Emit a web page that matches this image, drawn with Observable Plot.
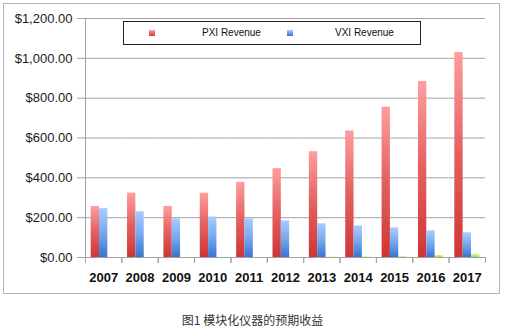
<!DOCTYPE html>
<html><head><meta charset="utf-8">
<script src="https://cdn.jsdelivr.net/npm/d3@7"></script>
<script src="https://cdn.jsdelivr.net/npm/@observablehq/plot@0.6"></script>
<style>
body{margin:0;background:#fff;}
#wrap{position:relative;width:505px;height:331px;overflow:hidden;}
#border{position:absolute;left:3px;top:3px;width:495px;height:289px;border:1px solid #b4b4b4;pointer-events:none;}
#legend{position:absolute;left:123px;top:21px;width:296px;height:22px;border:1px solid #222;background:#fff;font:10px "Liberation Sans",Arial,sans-serif;color:#111;}
#legend .sw{position:absolute;top:8px;width:6px;height:6px;}
#legend .lb{position:absolute;top:0;line-height:22px;white-space:nowrap;}
#caption{position:absolute;left:0;top:312px;width:505px;text-align:center;font:12px/16px "Noto Sans CJK SC",sans-serif;color:#333;}
</style></head><body>
<div id="wrap">
  <div id="chart"></div>
  <div id="border"></div>
  <div id="legend"></div>
  <div id="caption"></div>
</div>
<script>
const years = [2007, 2008, 2009, 2010, 2011, 2012, 2013, 2014, 2015, 2016, 2017];
const pxiRevenue = [256, 323, 256, 323, 377, 446, 531, 635, 755, 884, 1029];
const vxiRevenue = [245, 230, 194, 203, 194, 184, 169, 159, 149, 134, 124];
const otherRevenue = [0, 0, 0, 0, 0, 0, 2, 3, 4, 10, 16];
const seriesNames = ["PXI Revenue", "VXI Revenue", "Other Revenue"];
const legendNames = ["PXI Revenue", "VXI Revenue"];
const yTicks = [0, 200, 400, 600, 800, 1000, 1200];
const captionText = "图1 模块化仪器的预期收益";

const seriesValues = [pxiRevenue, vxiRevenue, otherRevenue];
const gradIds = ["gPXI", "gVXI", "gOther"];
const gradStops = [["#ff9d9d", "#e46060", "#cf3535"], ["#a9cbff", "#78a8ee", "#3575d2"], ["#d8f79a", "#c2ec74", "#9fd84a"]];

const rows = seriesNames.map((s, k) => years.map((y, i) => ({year: y, series: s, value: seriesValues[k][i]})));

const W = 505, H = 296, MT = 18, MB = 39, ML = 85, MR = 20;
const axisColor = "#a2a2a2";
const fmt = d3.format("$,.2f");

const chart = Plot.plot({
  width: W, height: H,
  marginTop: MT, marginBottom: MB, marginLeft: ML, marginRight: MR,
  style: {fontFamily: "'Liberation Sans', Arial, sans-serif", fontSize: "13px", color: "#1a1a1a", background: "transparent", overflow: "visible"},
  fx: {domain: years, padding: 0, round: false, label: null},
  x: {domain: seriesNames, paddingInner: 0, paddingOuter: 0.68, round: false, axis: null},
  y: {domain: [0, 1200], label: null},
  marks: [
    Plot.gridY(yTicks, {stroke: axisColor, strokeOpacity: 1}),
    Plot.axisY(yTicks, {tickSize: 8, tickPadding: 5, tickFormat: fmt, stroke: axisColor, fill: "#1a1a1a", fontSize: 13, label: null}),
    Plot.frame({anchor: "left", facet: "super", stroke: axisColor}),
    Plot.frame({anchor: "left", stroke: axisColor, insetTop: H - MT - MB, insetBottom: -5}),
    Plot.frame({anchor: "right", stroke: axisColor, insetTop: H - MT - MB, insetBottom: -5}),
    ...rows.map((data, k) => Plot.barY(data, {fx: "year", x: "series", y: "value", fill: `url(#${gradIds[k]})`})),
    Plot.ruleY([0], {stroke: axisColor}),
    Plot.axisFx({anchor: "bottom", tickSize: 0, tickPadding: 15, tickFormat: d => String(d), fontWeight: "bold", fontSize: 13, fill: "#111", label: null})
  ]
});

const defs = d3.select(chart).insert("defs", ":first-child");
gradIds.forEach((id, k) => {
  const g = defs.append("linearGradient").attr("id", id).attr("x1", 0).attr("y1", 0).attr("x2", 0).attr("y2", 1);
  gradStops[k].forEach((c, j) => g.append("stop").attr("offset", j / (gradStops[k].length - 1)).attr("stop-color", c));
});
document.getElementById("chart").appendChild(chart);

const legend = d3.select("#legend");
const swLeft = [25, 163], lbLeft = [78, 211];
legendNames.forEach((name, k) => {
  legend.append("div").attr("class", "sw").style("left", swLeft[k] + "px")
    .style("background", `linear-gradient(${gradStops[k][0]}, ${gradStops[k][2]})`);
  legend.append("div").attr("class", "lb").style("left", lbLeft[k] + "px").text(name);
});
document.getElementById("caption").textContent = captionText;
</script>
</body></html>
